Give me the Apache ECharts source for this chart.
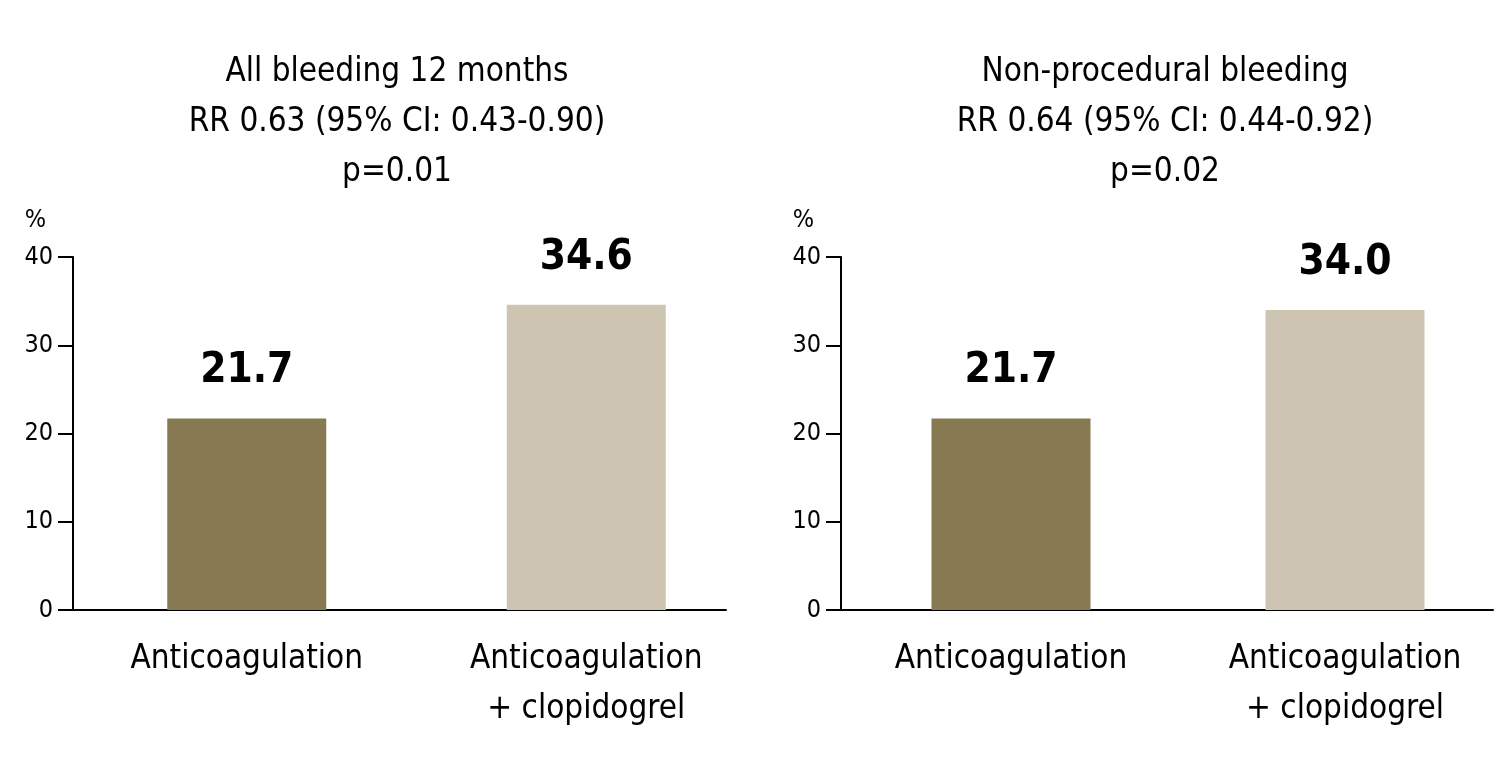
<!DOCTYPE html>
<html>
<head>
<meta charset="utf-8">
<script src="https://cdn.jsdelivr.net/npm/echarts@6/dist/echarts.min.js"></script>
<style>
  html, body { margin: 0; padding: 0; background: #ffffff; }
  #chart { width: 1512px; height: 768px; }
</style>
</head>
<body>
<div id="chart"></div>
<script>
// ---- data ----
const categories = ['Anticoagulation', 'Anticoagulation\n+ clopidogrel'];
const leftTitle = ['All bleeding 12 months', 'RR 0.63 (95% CI: 0.43-0.90)', 'p=0.01'];
const rightTitle = ['Non-procedural bleeding', 'RR 0.64 (95% CI: 0.44-0.92)', 'p=0.02'];
const allBleeding = [21.7, 34.6];
const nonProceduralBleeding = [21.7, 34.0];
const yMin = 0, yMax = 40, yInterval = 10;
const yUnit = '%';
const barColors = ['#877a52', '#cdc5b2'];

// ---- style ----
const FONT = "'Liberation Sans Narrow', 'DejaVu Sans Condensed', sans-serif";
const INK = '#000000';

const chart = echarts.init(document.getElementById('chart'), null, { renderer: 'canvas' });

const panels = [
  { axisGrid: { left: 73, width: 653 }, barGrid: { left: 77, width: 679 }, title: leftTitle, titleX: 392, values: allBleeding },
  { axisGrid: { left: 841, width: 652 }, barGrid: { left: 844, width: 679 }, title: rightTitle, titleX: 1160, values: nonProceduralBleeding }
];

const grids = [], xAxes = [], yAxes = [], series = [], titles = [];
panels.forEach((p) => {
  const gA = grids.length;
  grids.push({ left: p.axisGrid.left, width: p.axisGrid.width, top: 257, bottom: 158, containLabel: false });
  const gB = grids.length;
  grids.push({ left: p.barGrid.left, width: p.barGrid.width, top: 257, bottom: 158, containLabel: false });

  xAxes.push({
    gridIndex: gA, type: 'category', data: categories,
    axisLine: { show: true, lineStyle: { color: INK, width: 2 } },
    axisTick: { show: false }, axisLabel: { show: false }, splitLine: { show: false }
  });
  yAxes.push({
    gridIndex: gA, type: 'value', min: yMin, max: yMax, interval: yInterval,
    name: yUnit, nameLocation: 'end', nameGap: 24,
    nameTextStyle: { fontFamily: FONT, fontSize: 25, color: INK, align: 'right', padding: [0, 27, 0, 0] },
    axisLine: { show: true, lineStyle: { color: INK, width: 2 } },
    axisTick: { show: true, inside: false, length: 15, lineStyle: { color: INK, width: 2 } },
    axisLabel: { show: true, margin: 20, fontFamily: FONT, fontSize: 25, color: INK },
    splitLine: { show: false }
  });

  const xB = xAxes.length;
  xAxes.push({
    gridIndex: gB, type: 'category', data: categories,
    axisLine: { show: false }, axisTick: { show: false },
    axisLabel: { show: true, interval: 0, margin: 24, fontFamily: FONT, fontSize: 33, lineHeight: 50, color: INK, align: 'center' },
    splitLine: { show: false }
  });
  const yB = yAxes.length;
  yAxes.push({
    gridIndex: gB, type: 'value', min: yMin, max: yMax, interval: yInterval, show: false
  });

  series.push({
    type: 'bar', xAxisIndex: xB, yAxisIndex: yB,
    data: p.values.map((v, k) => ({ value: v, itemStyle: { color: barColors[k] } })),
    barWidth: 159,
    label: {
      show: true, position: 'top', distance: 26,
      formatter: (d) => d.value.toFixed(1),
      fontFamily: FONT, fontSize: 42, fontWeight: 'bold', color: INK
    },
    silent: true, animation: false
  });

  titles.push({
    text: p.title.join('\n'),
    left: p.titleX, top: 42, textAlign: 'center',
    textStyle: { fontFamily: FONT, fontSize: 33, lineHeight: 50, fontWeight: 'normal', color: INK }
  });
});

chart.setOption({
  backgroundColor: '#ffffff',
  animation: false,
  title: titles,
  grid: grids,
  xAxis: xAxes,
  yAxis: yAxes,
  series: series
});
</script>
</body>
</html>
